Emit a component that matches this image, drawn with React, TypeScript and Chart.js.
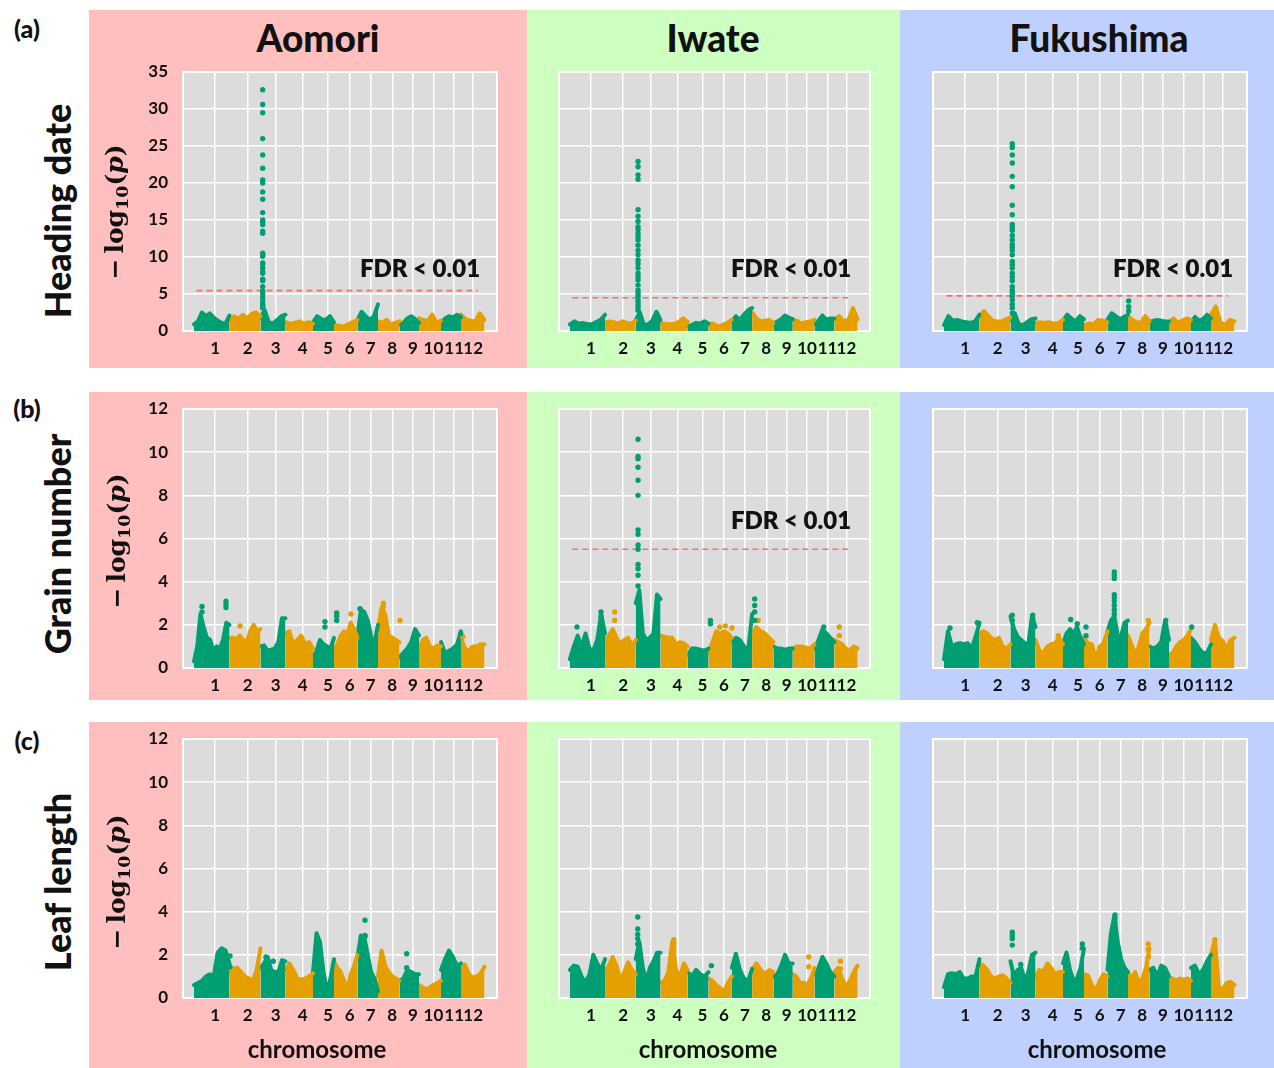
import React, { useEffect, useRef } from "react";
import { Chart, registerables } from "chart.js";

Chart.register(...registerables);

// ---------- colours ----------
const GREEN = "#009E73";
const ORANGE = "#E69F00";
const PLOT_BG = "#DCDCDC";
const FDR_COLOR = "#E8766E";
const BG_COLORS = ["#FFBFBF", "#CCFFC0", "#BFD0FF"];

// ---------- labels ----------
const SITES = ["Aomori", "Iwate", "Fukushima"];
const TRAITS = ["Heading date", "Grain number", "Leaf length"];
const PANEL_LETTERS = ["(a)", "(b)", "(c)"];
const X_TITLE = "chromosome";
const FDR_LABEL = "FDR < 0.01";

// ---------- x axis (cumulative SNP position, arbitrary units) ----------
const CHROMOSOMES = ["1", "2", "3", "4", "5", "6", "7", "8", "9", "10", "11", "12"];
const CHR_BOUNDS = [11, 46.5, 77.5, 102.5, 130, 151, 174.5, 195, 216.5, 236, 258, 278, 301.5];
const CHR_TICKS = [32.2, 64.7, 92.7, 119.6, 144.9, 166.6, 187.8, 209.3, 229.9, 250.4, 271.2, 290.2];
const X_MAX = 314;
const FDR_SPAN = [13.5, 295];

// ---------- y axis ----------
const Y_TICKS_HEADING = [0, 5, 10, 15, 20, 25, 30, 35];
const Y_TICKS_OTHER = [0, 2, 4, 6, 8, 10, 12];

// ---------- FDR thresholds (-log10 p) per site ----------
const HD_FDR = [5.45, 4.5, 4.75];
const GN_FDR = [null, 5.5, null];
const LL_FDR = [null, null, null];

// ---------- upper envelope of the SNP cloud, per chromosome (evenly spaced along each chromosome) ----------
const HD_AOMORI = [
  [0.9, 1.3, 2.5, 2.0, 2.4, 1.8, 1.4, 1.1, 1.0, 2.1],
  [1.5, 2.0, 1.6, 2.2, 1.7, 2.3, 2.5, 2.0],
  [1.8, 2.8, 1.2, 1.0, 1.5, 2.0, 2.2],
  [1.2, 1.0, 1.1, 1.3, 1.0, 1.2, 1.0],
  [1.2, 2.0, 1.6, 1.5, 2.0, 1.2],
  [0.9, 0.7, 0.6, 0.9, 1.2, 1.5],
  [1.5, 2.6, 2.0, 1.5, 2.0, 3.6],
  [1.3, 1.1, 1.5, 0.9, 1.1, 1.3],
  [0.9, 1.1, 1.7, 2.0, 1.6, 1.1],
  [1.7, 1.5, 1.4, 2.2, 1.1, 1.4],
  [1.0, 1.7, 2.0, 1.8, 2.2, 1.9],
  [2.2, 1.6, 1.4, 1.3, 2.4, 1.5],
];
const HD_IWATE = [
  [0.9, 1.3, 1.0, 1.1, 0.9, 0.9, 1.2, 1.5, 2.2],
  [1.1, 1.3, 1.2, 1.0, 1.3, 1.1, 1.0, 1.4],
  [1.5, 2.5, 0.8, 0.9, 1.4, 2.6, 1.5],
  [1.1, 1.0, 0.9, 1.0, 1.2, 1.7, 1.2],
  [0.6, 0.8, 1.1, 1.0, 1.3, 1.0],
  [0.9, 1.0, 0.6, 0.8, 1.1, 1.5],
  [1.3, 2.0, 1.5, 2.2, 2.8, 3.1],
  [2.5, 1.7, 1.3, 1.4, 1.5, 1.1],
  [1.0, 1.3, 1.6, 2.1, 1.8, 1.6],
  [1.5, 1.4, 1.0, 1.2, 1.3, 1.5],
  [1.0, 1.4, 2.1, 1.5, 1.7, 1.7],
  [1.5, 2.0, 1.3, 1.5, 3.1, 1.6],
];
const HD_FUKUSHIMA = [
  [0.8, 2.0, 1.4, 1.5, 1.3, 1.2, 1.1, 1.3, 2.2],
  [2.0, 2.7, 2.0, 1.4, 1.3, 1.3, 1.6, 1.8],
  [1.5, 2.4, 0.9, 0.8, 1.2, 1.6, 1.7],
  [1.1, 1.2, 1.1, 1.2, 1.0, 1.1, 1.5],
  [1.4, 2.2, 1.7, 1.3, 2.0, 1.6],
  [0.8, 1.0, 0.9, 1.5, 1.4, 1.2],
  [1.5, 2.4, 2.0, 1.6, 1.9, 2.2],
  [2.0, 1.5, 1.2, 1.1, 2.0, 1.3],
  [1.2, 1.4, 1.5, 1.4, 1.3, 1.3],
  [1.2, 1.7, 1.1, 1.4, 1.7, 1.5],
  [1.1, 1.9, 1.4, 1.6, 2.2, 1.7],
  [2.2, 3.3, 1.2, 0.8, 1.5, 1.3],
];
const GN_AOMORI = [
  [0.3, 1.0, 2.5, 1.9, 1.4, 1.3, 0.8, 1.0, 0.9, 1.3, 2.1, 2.0],
  [1.4, 1.4, 1.35, 1.5, 1.3, 1.2, 1.7, 2.0, 1.7, 1.8],
  [1.0, 1.05, 0.8, 0.85, 0.9, 1.2, 2.3, 2.3],
  [1.6, 1.7, 1.1, 1.3, 1.5, 1.1, 1.2, 0.9],
  [0.5, 0.8, 1.3, 1.1, 1.0, 0.9, 1.4],
  [0.9, 1.1, 1.5, 1.7, 1.6, 2.1, 1.8, 1.4],
  [1.5, 2.7, 2.6, 2.2, 1.45, 1.2, 2.0],
  [1.8, 2.8, 2.5, 1.5, 1.4, 1.3, 1.2],
  [0.5, 0.7, 0.9, 1.2, 1.8, 1.5],
  [0.9, 1.3, 1.4, 1.0, 0.9, 1.05, 1.0],
  [1.2, 0.7, 0.8, 0.9, 1.1, 1.7],
  [1.4, 0.9, 0.8, 1.0, 1.0, 1.1, 1.1],
];
const GN_IWATE = [
  [0.4, 1.0, 1.5, 1.0, 1.6, 0.9, 0.8, 1.3, 2.5, 1.6],
  [1.3, 1.5, 1.8, 1.4, 1.1, 1.3, 1.4, 1.0, 1.3],
  [3.0, 3.6, 1.6, 1.3, 1.4, 1.6, 3.4, 3.2],
  [1.5, 1.45, 1.4, 1.4, 1.1, 1.2, 1.15, 1.0],
  [0.6, 0.9, 0.9, 0.85, 0.8, 0.9],
  [0.7, 1.2, 1.7, 1.6, 1.7, 1.6, 1.4],
  [1.2, 1.4, 1.3, 1.0, 0.8, 2.5],
  [1.5, 1.9, 1.7, 1.6, 1.4, 1.2],
  [1.0, 0.9, 0.9, 0.85, 0.9, 0.9],
  [0.9, 1.0, 1.0, 0.95, 0.9, 1.1],
  [0.9, 1.3, 1.8, 1.6, 1.4, 1.2],
  [1.3, 1.2, 1.1, 0.9, 0.8, 1.0, 0.9],
];
const GN_FUKUSHIMA = [
  [0.4, 1.7, 1.0, 1.1, 1.15, 1.1, 1.15, 0.9, 1.45, 2.1],
  [1.6, 1.7, 1.6, 1.4, 1.3, 1.4, 1.0, 0.9, 1.1],
  [2.4, 1.8, 1.45, 1.3, 1.15, 1.1, 2.4, 1.9],
  [1.3, 0.8, 0.7, 1.0, 1.1, 1.15, 1.4, 1.1],
  [1.1, 1.6, 1.8, 1.6, 1.9, 1.4, 1.1],
  [1.4, 1.15, 1.1, 0.4, 1.0, 1.15, 1.7],
  [1.7, 2.2, 2.4, 1.5, 1.5, 2.1, 2.2],
  [1.5, 1.1, 0.6, 1.0, 1.6, 1.8, 2.1],
  [1.0, 0.9, 1.0, 1.2, 2.2, 1.3],
  [0.6, 0.7, 1.0, 1.2, 1.3, 1.5, 1.8],
  [1.4, 1.2, 0.9, 0.7, 0.7, 1.1],
  [1.3, 2.0, 1.4, 1.25, 0.9, 1.3, 1.4],
];
const LL_AOMORI = [
  [0.6, 0.7, 0.8, 1.0, 1.1, 1.0, 2.1, 2.3, 2.2, 1.6],
  [1.2, 1.35, 1.4, 1.2, 1.0, 0.9, 0.8, 1.3, 2.3],
  [1.4, 1.6, 1.9, 1.3, 1.2, 1.2, 1.75, 1.7],
  [1.3, 1.6, 1.3, 0.9, 0.85, 0.9, 1.0, 1.15],
  [1.2, 3.0, 2.6, 1.2, 0.3, 0.9, 1.8],
  [1.7, 1.4, 1.2, 0.8, 0.4, 1.1, 1.5, 2.0],
  [1.9, 2.9, 2.8, 2.0, 1.2, 0.9, 0.3],
  [1.0, 2.2, 1.5, 1.2, 1.0, 0.9, 0.8],
  [0.8, 0.9, 1.3, 1.2, 1.1, 1.1],
  [0.6, 0.5, 0.4, 0.5, 0.6, 0.7, 0.8],
  [1.3, 1.8, 2.2, 1.9, 1.5, 1.6],
  [1.3, 1.55, 1.1, 0.95, 1.0, 1.15, 1.45],
];
const LL_IWATE = [
  [1.3, 1.5, 1.45, 1.0, 0.7, 1.1, 2.0, 1.6, 1.3, 1.8],
  [1.3, 1.5, 1.9, 1.5, 0.8, 1.2, 1.65, 1.3, 1.1],
  [1.8, 2.6, 1.4, 0.8, 1.4, 1.7, 2.1, 2.1],
  [0.7, 0.8, 1.2, 2.6, 1.3, 1.0, 1.6, 1.3],
  [1.2, 1.0, 1.3, 1.1, 1.0, 1.2],
  [0.9, 0.8, 0.6, 0.45, 0.3, 0.7, 1.0],
  [1.4, 2.05, 1.3, 0.9, 0.8, 1.35],
  [1.3, 1.6, 1.3, 1.1, 1.3, 1.2],
  [1.0, 1.1, 1.5, 2.0, 1.6, 1.6],
  [1.1, 1.0, 0.7, 0.7, 0.6, 0.9, 1.4],
  [1.1, 1.4, 1.9, 1.6, 1.2, 1.0],
  [1.2, 1.4, 0.9, 0.5, 0.8, 1.2, 1.5],
];
const LL_FUKUSHIMA = [
  [0.5, 1.1, 1.15, 1.1, 1.2, 0.9, 0.9, 1.0, 1.0, 1.8],
  [1.6, 1.5, 1.3, 1.0, 0.9, 1.0, 1.05, 0.9, 0.7],
  [1.7, 1.0, 1.3, 1.4, 0.8, 1.2, 2.0, 2.1],
  [1.0, 1.3, 1.2, 1.6, 1.4, 1.1, 1.2, 1.2],
  [1.6, 2.1, 1.3, 0.8, 0.9, 1.4, 2.3],
  [1.1, 1.05, 0.6, 0.35, 0.8, 1.1, 1.0],
  [1.3, 3.0, 3.8, 2.6, 1.8, 1.4, 1.2],
  [1.2, 0.9, 1.2, 0.7, 0.9, 1.4, 2.3],
  [1.3, 1.4, 1.0, 1.5, 1.4, 1.0],
  [0.9, 0.9, 0.8, 0.9, 0.85, 0.9, 0.8],
  [1.4, 1.5, 1.1, 1.3, 1.7, 2.0],
  [2.0, 2.7, 0.5, 0.4, 0.7, 0.75, 0.6],
];

// ---------- isolated SNPs standing above the cloud: [chromosome, position, [-log10 p ...]] ----------
const HD_AOMORI_DOTS = [
  [3, 79.7, [32.6, 30.6, 29.5, 26.0, 23.8, 22.0, 20.4, 20.0, 18.8, 17.8, 16.0, 15.0, 14.8, 14.4, 13.5, 13.2, 10.5, 10.3, 10.1, 9.2, 9.0, 8.5, 8.0, 7.8, 7.0, 6.8, 6.0, 5.4, 5.0, 4.5, 4.0, 3.6, 3.3, 3.1]],
];
const HD_IWATE_DOTS = [
  [3, 79.8, [22.9, 22.2, 21.1, 20.5, 16.4, 15.5, 14.8, 14.1, 13.7, 13.2, 12.8, 12.3, 11.6, 10.9, 10.3, 9.6, 9.1, 8.5, 7.8, 7.3, 6.9, 6.2, 5.5, 5.1, 4.7, 4.2, 3.9, 3.5, 3.2, 2.8]],
];
const HD_FUKUSHIMA_DOTS = [
  [3, 79.3, [25.3, 24.8, 23.8, 22.7, 20.9, 19.5, 17.0, 15.7, 14.4, 14.0, 13.6, 12.9, 12.3, 11.7, 11.3, 10.9, 10.3, 9.4, 9.0, 8.5, 7.8, 7.3, 6.8, 6.0, 5.5, 5.1, 4.7, 4.2, 3.6, 3.1, 2.4]],
  [7, 195.7, [4.05, 3.3, 2.7]],
];
const GN_AOMORI_DOTS = [
  [1, 19.0, [2.85, 2.6]],
  [1, 43.0, [3.1, 2.95, 2.8]],
  [2, 57.0, [1.95]],
  [5, 142.0, [2.15, 1.9]],
  [5, 153.7, [2.55, 2.4, 2.2]],
  [6, 168.0, [2.5]],
  [7, 177.0, [2.75]],
  [8, 200.3, [3.0, 2.85, 2.6]],
  [8, 217.0, [2.2]],
  [11, 277.7, [1.6]],
  [12, 279.7, [1.45]],
];
const GN_IWATE_DOTS = [
  [1, 18.2, [1.9]],
  [1, 42.4, [2.6, 2.4]],
  [2, 56.2, [2.6, 2.2]],
  [3, 79.8, [10.6, 9.8, 9.7, 9.3, 8.7, 8.0, 6.4, 6.2, 5.7, 5.5, 4.8, 4.6, 4.3, 3.8]],
  [5, 152.9, [2.2, 2.05]],
  [6, 162.3, [1.9]],
  [6, 168.0, [1.95]],
  [6, 174.7, [1.85]],
  [7, 197.6, [3.2, 2.9, 2.6, 2.2]],
  [8, 201.0, [2.2]],
  [11, 267.3, [1.9]],
  [12, 283.0, [1.9, 1.5]],
];
const GN_FUKUSHIMA_DOTS = [
  [1, 17.0, [1.85]],
  [1, 44.3, [2.1]],
  [3, 79.3, [2.45, 2.2]],
  [3, 99.7, [2.45, 2.3]],
  [4, 125.3, [1.5]],
  [5, 137.7, [2.25]],
  [5, 144.3, [2.05]],
  [5, 153.0, [1.9, 1.5]],
  [7, 181.3, [4.45, 4.3, 4.15, 3.4, 3.25, 3.1, 2.9, 2.7, 2.5]],
  [8, 215.3, [2.2]],
  [9, 232.7, [2.2, 2.0]],
  [11, 258.7, [1.9]],
];
const LL_AOMORI_DOTS = [
  [1, 47.0, [1.95, 1.45]],
  [3, 83.0, [1.9]],
  [3, 90.3, [1.7]],
  [7, 182.0, [3.6, 2.9, 2.85]],
  [9, 223.7, [2.05, 1.4]],
];
const LL_IWATE_DOTS = [
  [3, 79.5, [3.75, 3.2, 2.95, 2.75, 2.5]],
  [4, 115.8, [2.7, 2.55, 2.4, 2.2, 2.0, 1.8]],
  [5, 153.8, [1.5]],
  [10, 252.2, [1.9, 1.45]],
  [12, 284.1, [1.7, 1.35]],
];
const LL_FUKUSHIMA_DOTS = [
  [3, 79.3, [3.05, 2.9, 2.75, 2.45]],
  [3, 87.7, [1.55]],
  [5, 149.3, [2.5, 2.3]],
  [7, 182.0, [3.85, 3.7, 3.5, 3.3]],
  [8, 215.3, [2.5, 2.25, 1.9]],
  [12, 282.0, [2.7]],
];

// ---------- layout ----------
const COL_BG_X = [89, 527, 900];
const COL_BG_W = [438, 373, 374];
const ROW_BG_Y = [10, 392, 722];
const ROW_BG_H = [358, 308, 346];
const PLOT_X = [183, 559, 933];
const PLOT_W = [314, 311, 314];
const PLOT_Y = [72, 409, 739];
const PLOT_H = 259;
const AXIS_W = 80;
const AXIS_H = 40;
const PAD_T = 8;
const PAD_R = 12;

const SANS = "Lato, 'Open Sans', sans-serif";

const chrColor = (chr: number) => (chr % 2 === 1 ? GREEN : ORANGE);

const plotBgPlugin = {
  id: "plotBg",
  beforeDraw(chart: any) {
    const { ctx, chartArea: a } = chart;
    ctx.save();
    ctx.fillStyle = PLOT_BG;
    ctx.fillRect(a.left, a.top, a.right - a.left, a.bottom - a.top);
    ctx.restore();
  },
  beforeDatasetsDraw(chart: any) {
    const { ctx, chartArea: a } = chart;
    ctx.save();
    ctx.strokeStyle = "#ffffff";
    ctx.lineWidth = 2;
    ctx.strokeRect(a.left, a.top, a.right - a.left, a.bottom - a.top);
    ctx.restore();
  },
};

type PanelProps = {
  env: number[][];
  dots: any[];
  fdr: number | null;
  yTicks: number[];
  showY: boolean;
  left: number;
  top: number;
  width: number;
};

function ManhattanPanel({ env, dots, fdr, yTicks, showY, left, top, width }: PanelProps) {
  const ref = useRef<HTMLCanvasElement>(null);
  const cw = width + AXIS_W + PAD_R;
  const chh = PLOT_H + PAD_T + AXIS_H;

  useEffect(() => {
    let chart: any = null;
    let cancelled = false;
    const make = () => {
      if (cancelled || !ref.current) return;
      const datasets: any[] = [];
      dots.forEach(([chr, x, vals]: [number, number, number[]]) => {
        datasets.push({
          type: "scatter",
          data: vals.map((v) => ({ x, y: v })),
          pointRadius: 2.7,
          pointBackgroundColor: chrColor(chr),
          pointBorderWidth: 0,
          order: 1,
        });
      });
      env.forEach((vals, ci) => {
        const x0 = CHR_BOUNDS[ci];
        const x1 = CHR_BOUNDS[ci + 1];
        const n = vals.length;
        const color = chrColor(ci + 1);
        datasets.push({
          type: "line",
          data: vals.map((v, k) => ({ x: x0 + ((x1 - x0) * k) / (n - 1), y: v })),
          borderColor: color,
          backgroundColor: color,
          borderWidth: 4,
          borderJoinStyle: "round",
          borderCapStyle: "round",
          fill: "origin",
          pointRadius: 0,
          tension: 0,
          order: 2,
        });
      });
      if (fdr != null) {
        datasets.push({
          type: "line",
          data: [
            { x: FDR_SPAN[0], y: fdr },
            { x: FDR_SPAN[1], y: fdr },
          ],
          borderColor: FDR_COLOR,
          borderWidth: 1.6,
          borderDash: [6, 4],
          pointRadius: 0,
          fill: false,
          order: 3,
        });
      }
      const tickFont = { family: SANS, weight: "bold" as const, size: 17 };
      chart = new Chart(ref.current, {
        type: "scatter",
        data: { datasets },
        options: {
          animation: false,
          responsive: false,
          events: [],
          layout: { autoPadding: false, padding: { top: PAD_T, right: PAD_R, left: 0, bottom: 0 } },
          plugins: { legend: { display: false }, tooltip: { enabled: false } },
          scales: {
            x: {
              type: "linear",
              min: 0,
              max: X_MAX,
              afterBuildTicks: (s: any) => {
                s.ticks = CHR_TICKS.map((v) => ({ value: v }));
              },
              afterFit: (s: any) => {
                s.height = AXIS_H;
                s.paddingLeft = 0;
                s.paddingRight = 0;
                s.paddingTop = 0;
                s.paddingBottom = 0;
              },
              ticks: {
                autoSkip: false,
                maxRotation: 0,
                padding: 7,
                color: "#111",
                font: tickFont,
                callback: (_v: any, i: number) => CHROMOSOMES[i],
              },
              grid: { color: "#ffffff", lineWidth: 1.5, drawTicks: false },
              border: { display: false },
            },
            y: {
              type: "linear",
              min: yTicks[0],
              max: yTicks[yTicks.length - 1],
              afterBuildTicks: (s: any) => {
                s.ticks = yTicks.map((v) => ({ value: v }));
              },
              afterFit: (s: any) => {
                s.width = AXIS_W;
                s.paddingLeft = 0;
                s.paddingRight = 0;
                s.paddingTop = 0;
                s.paddingBottom = 0;
              },
              ticks: {
                display: showY,
                padding: 15,
                color: "#111",
                font: tickFont,
                callback: (v: any) => String(v),
              },
              grid: { color: "#ffffff", lineWidth: 1.5, drawTicks: false },
              border: { display: false },
            },
          },
        },
        plugins: [plotBgPlugin],
      } as any);
    };
    const fonts: any = (document as any).fonts;
    if (fonts && fonts.load) {
      fonts.load(`bold 17px Lato`).then(make, make);
    } else {
      make();
    }
    return () => {
      cancelled = true;
      if (chart) chart.destroy();
    };
  }, [env, dots, fdr, yTicks, showY]);

  return (
    <canvas
      ref={ref}
      width={cw}
      height={chh}
      style={{ position: "absolute", left: left - AXIS_W, top: top - PAD_T, width: cw, height: chh }}
    />
  );
}

function Label({ x, y, rotate, style, children }: any) {
  return (
    <div
      style={{
        position: "absolute",
        left: x,
        top: y,
        transform: `translate(-50%, -50%)${rotate ? " rotate(-90deg)" : ""}`,
        whiteSpace: "nowrap",
        lineHeight: 1,
        color: "#111",
        ...style,
      }}
    >
      {children}
    </div>
  );
}

const ENVS = [
  [HD_AOMORI, HD_IWATE, HD_FUKUSHIMA],
  [GN_AOMORI, GN_IWATE, GN_FUKUSHIMA],
  [LL_AOMORI, LL_IWATE, LL_FUKUSHIMA],
];
const DOTS = [
  [HD_AOMORI_DOTS, HD_IWATE_DOTS, HD_FUKUSHIMA_DOTS],
  [GN_AOMORI_DOTS, GN_IWATE_DOTS, GN_FUKUSHIMA_DOTS],
  [LL_AOMORI_DOTS, LL_IWATE_DOTS, LL_FUKUSHIMA_DOTS],
];
const FDRS = [HD_FDR, GN_FDR, LL_FDR];
const Y_TICKS = [Y_TICKS_HEADING, Y_TICKS_OTHER, Y_TICKS_OTHER];

// label anchor points (centres)
const TITLE_POS = [[318, 37], [713, 37], [1099, 37]];
const TRAIT_POS = [[57, 211], [57, 544], [57, 882]];
const LETTER_POS = [[27, 28], [27, 408], [27, 740]];
const YTITLE_POS = [[114, 212], [116, 541], [116, 882]];
const XTITLE_POS = [[317, 1049], [708, 1049], [1097, 1049]];
const FDR_TEXT_POS: Record<string, number[]> = { "0-0": [420, 268], "0-1": [791, 268], "0-2": [1173, 268], "1-1": [791, 520] };

export default function App() {
  const blocks = [];
  for (let r = 0; r < 3; r++)
    for (let c = 0; c < 3; c++)
      blocks.push(
        <div
          key={`bg-${r}-${c}`}
          style={{
            position: "absolute",
            left: COL_BG_X[c],
            top: ROW_BG_Y[r],
            width: COL_BG_W[c],
            height: ROW_BG_H[r],
            background: BG_COLORS[c],
          }}
        />
      );

  const panels = [];
  for (let r = 0; r < 3; r++)
    for (let c = 0; c < 3; c++)
      panels.push(
        <ManhattanPanel
          key={`p-${r}-${c}`}
          env={ENVS[r][c]}
          dots={DOTS[r][c]}
          fdr={FDRS[r][c]}
          yTicks={Y_TICKS[r]}
          showY={c === 0}
          left={PLOT_X[c]}
          top={PLOT_Y[r]}
          width={PLOT_W[c]}
        />
      );

  return (
    <div
      style={{
        position: "absolute",
        left: 0,
        top: 0,
        width: 1274,
        height: 1068,
        background: "#ffffff",
        overflow: "hidden",
        fontFamily: SANS,
      }}
    >
      {blocks}
      {panels}
      {SITES.map((s, c) => (
        <Label key={s} x={TITLE_POS[c][0]} y={TITLE_POS[c][1]} style={{ fontSize: 37, fontWeight: 900 }}>
          {s}
        </Label>
      ))}
      {TRAITS.map((t, r) => (
        <Label key={t} x={TRAIT_POS[r][0]} y={TRAIT_POS[r][1]} rotate style={{ fontSize: 36, fontWeight: 900 }}>
          {t}
        </Label>
      ))}
      {PANEL_LETTERS.map((l, r) => (
        <Label key={l} x={LETTER_POS[r][0]} y={LETTER_POS[r][1]} style={{ fontSize: 25, fontWeight: 900 }}>
          {l}
        </Label>
      ))}
      {YTITLE_POS.map((p, r) => (
        <Label
          key={`yt-${r}`}
          x={p[0]}
          y={p[1]}
          rotate
          style={{ fontSize: 25, fontWeight: 700, fontFamily: "'DejaVu Serif', serif" }}
        >
          <span>−</span>
          <span style={{ marginLeft: 5 }}>log</span>
          <span style={{ fontSize: "0.7em", position: "relative", top: "0.3em" }}>10</span>
          <span>(</span>
          <i>p</i>
          <span>)</span>
        </Label>
      ))}
      {XTITLE_POS.map((p, c) => (
        <Label key={`xt-${c}`} x={p[0]} y={p[1]} style={{ fontSize: 24, fontWeight: 700 }}>
          {X_TITLE}
        </Label>
      ))}
      {Object.keys(FDR_TEXT_POS).map((k) => (
        <Label key={`fdr-${k}`} x={FDR_TEXT_POS[k][0]} y={FDR_TEXT_POS[k][1]} style={{ fontSize: 24, fontWeight: 800 }}>
          {FDR_LABEL}
        </Label>
      ))}
    </div>
  );
}
